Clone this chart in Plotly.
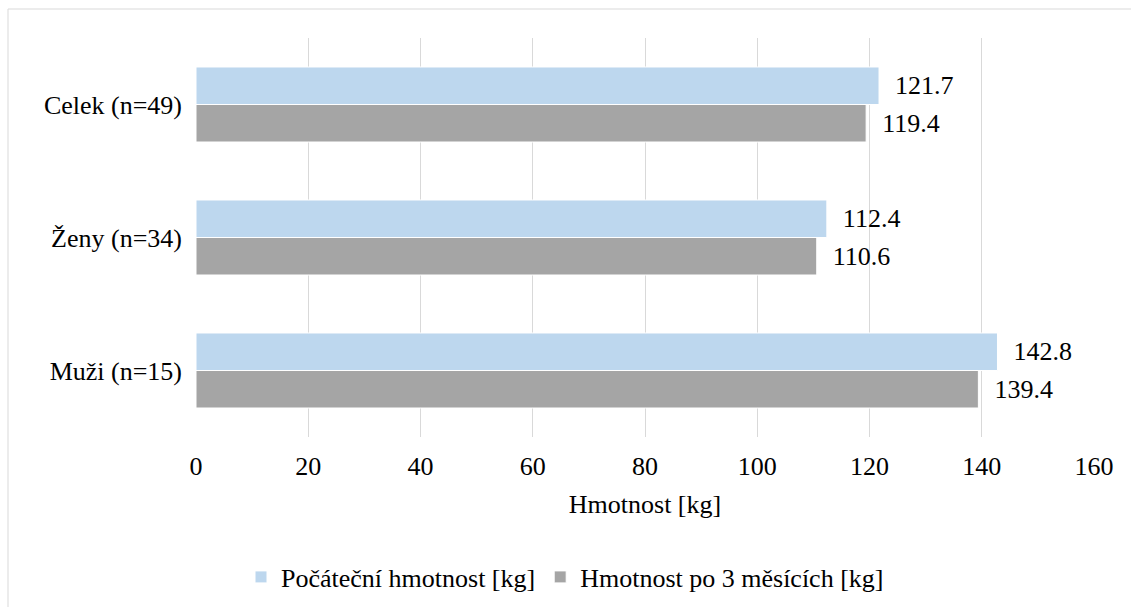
import plotly.graph_objects as go

categories = ["Muži (n=15)", "Ženy (n=34)", "Celek (n=49)"]
initial_weight = [142.8, 112.4, 121.7]
weight_after_3m = [139.4, 110.6, 119.4]
series_names = ["Počáteční hmotnost [kg]", "Hmotnost po 3 měsících [kg]"]
x_ticks = [0, 20, 40, 60, 80, 100, 120, 140, 160]

FONT = "Liberation Serif"
FS = 26
W, H = 1131, 607
L, R, T, B = 196, 37, 38, 170
pw, ph = W - L - R, H - T - B

fig = go.Figure()
fig.add_trace(go.Bar(
    y=categories, x=weight_after_3m, orientation="h", name=series_names[1],
    marker=dict(color="#A5A5A5", line=dict(color="white", width=1)),
    text=[f"{v:.1f}" for v in weight_after_3m], texttemplate="  %{text}",
    textposition="outside", textfont=dict(family=FONT, size=FS, color="black"),
    constraintext="none", cliponaxis=False, legendrank=2,
))
fig.add_trace(go.Bar(
    y=categories, x=initial_weight, orientation="h", name=series_names[0],
    marker=dict(color="#BDD7EE", line=dict(color="white", width=1)),
    text=[f"{v:.1f}" for v in initial_weight], texttemplate="  %{text}",
    textposition="outside", textfont=dict(family=FONT, size=FS, color="black"),
    constraintext="none", cliponaxis=False, legendrank=1,
))

def px_to_paper_x(px):
    return (px - L) / pw

def px_to_paper_y(py):
    return (H - B - py) / ph

fig.update_layout(
    width=W, height=H,
    margin=dict(l=L, r=R, t=T, b=B, autoexpand=False),
    paper_bgcolor="white", plot_bgcolor="white",
    font=dict(family=FONT, size=FS, color="black"),
    barmode="group", bargap=0.436, bargroupgap=0,
    xaxis=dict(
        range=[0, 160], tickvals=x_ticks, showgrid=True, gridcolor="#D9D9D9",
        gridwidth=1, zeroline=False, showline=False, ticks="", automargin=False,
        tickfont=dict(family=FONT, size=FS), ticklabelstandoff=11,
        title=dict(text="Hmotnost [kg]", font=dict(family=FONT, size=FS), standoff=14),
    ),
    yaxis=dict(
        categoryorder="array", categoryarray=categories, showgrid=False,
        zeroline=False, showline=False, ticks="", ticklabelstandoff=13,
        automargin=False, tickfont=dict(family=FONT, size=FS),
    ),
    legend=dict(
        orientation="h", xref="container", yref="container",
        x=565 / W, xanchor="center", y=1 - 577 / H, yanchor="middle",
        font=dict(family=FONT, size=FS), itemwidth=30,
    ),
    shapes=[
        dict(type="line", xref="paper", yref="paper",
             x0=px_to_paper_x(8), x1=px_to_paper_x(1140),
             y0=px_to_paper_y(9), y1=px_to_paper_y(9),
             line=dict(color="#D9D9D9", width=1)),
        dict(type="line", xref="paper", yref="paper",
             x0=px_to_paper_x(8), x1=px_to_paper_x(8),
             y0=px_to_paper_y(9), y1=px_to_paper_y(620),
             line=dict(color="#D9D9D9", width=1)),
    ],
    showlegend=True,
)

fig.write_html("out.html")
